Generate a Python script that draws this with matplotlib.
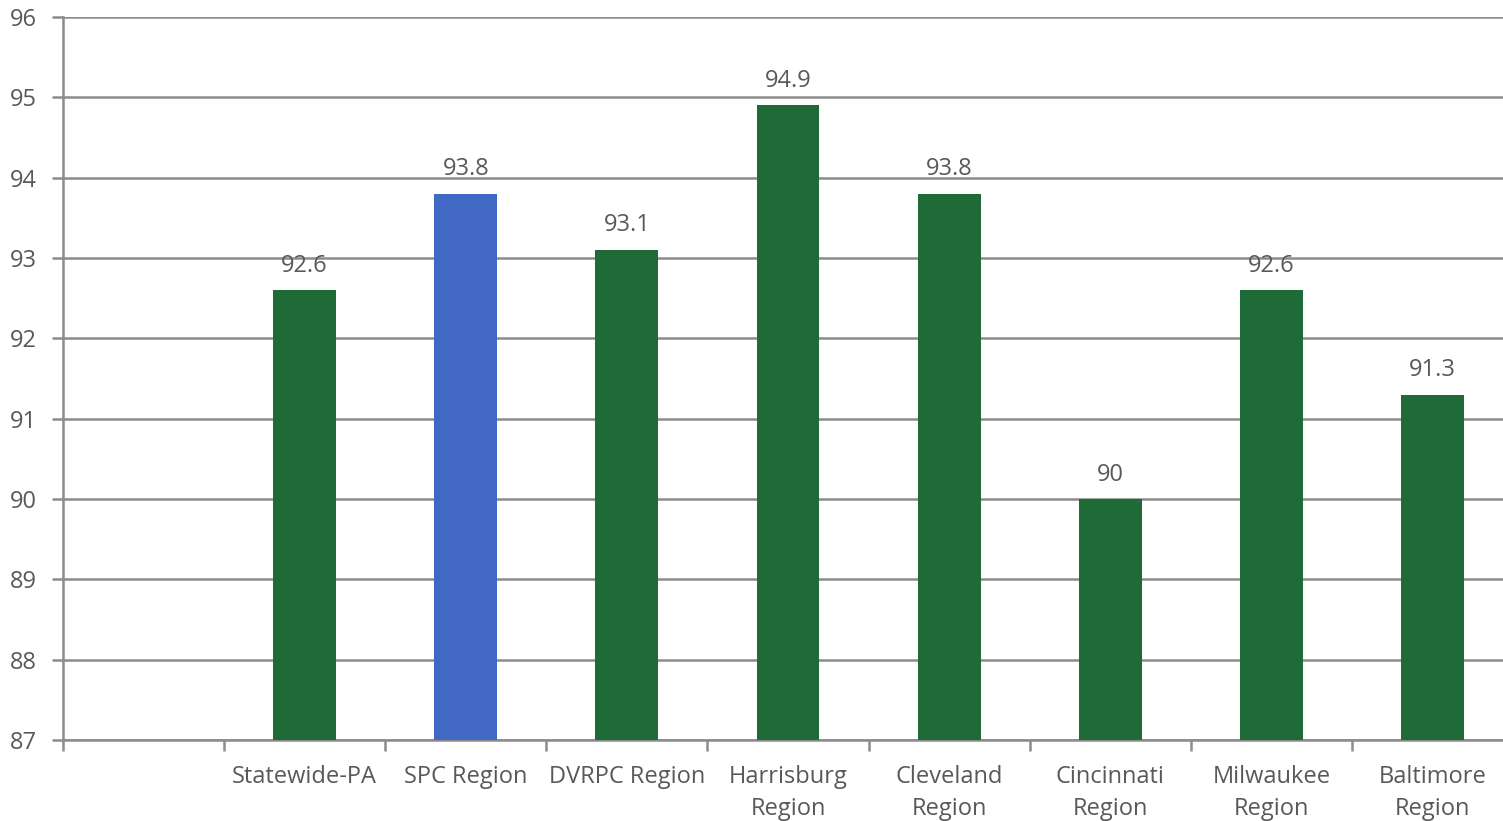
import matplotlib
matplotlib.use("Agg")
import matplotlib.pyplot as plt
import numpy as np

# Regions compared; the first slot is left blank on the axis
categories = ["", "Statewide-PA", "SPC Region", "DVRPC Region", "Harrisburg\nRegion",
              "Cleveland\nRegion", "Cincinnati\nRegion", "Milwaukee\nRegion",
              "Baltimore\nRegion"]
values = [None, 92.6, 93.8, 93.1, 94.9, 93.8, 90.0, 92.6, 91.3]
highlight = "SPC Region"

y_min, y_max = 87, 96
green = "#1E6B38"
blue = "#4169C4"
grid_gray = "#8C8C8C"
text_gray = "#595959"

plt.rcParams["font.family"] = ["Open Sans", "DejaVu Sans"]

fig = plt.figure(figsize=(15.03, 8.21), dpi=100)
ax = fig.add_axes([63 / 1503, 1 - 740 / 821, 1450 / 1503, (740 - 17) / 821])

x = np.arange(len(categories))
for xi, cat, val in zip(x, categories, values):
    if val is None:
        continue
    color = blue if cat == highlight else green
    ax.bar(xi, val - y_min, bottom=y_min, width=0.39, color=color, zorder=3)
    label = f"{val:g}"
    ax.annotate(label, (xi, val), xytext=(0, 9), textcoords="offset points",
                ha="center", va="bottom", fontsize=17, color=text_gray)

ax.set_xlim(-0.5, len(categories) - 0.5)
ax.set_ylim(y_min, y_max)
ax.set_yticks(range(y_min, y_max + 1))
ax.yaxis.grid(True, color=grid_gray, linewidth=1.8, zorder=0)
ax.set_axisbelow(True)

# category labels centred, tick marks on the boundaries between slots
ax.set_xticks(x)
ax.set_xticklabels(categories, fontsize=17, color=text_gray, linespacing=1.45)
ax.tick_params(axis="x", which="major", length=0, pad=18)
ax.set_xticks(np.arange(-0.5, len(categories)), minor=True)
ax.tick_params(axis="x", which="minor", length=8, width=1.8, color=grid_gray)

ax.tick_params(axis="y", length=8, width=1.8, color=grid_gray,
               labelsize=17, labelcolor=text_gray, pad=11)

for side in ["top", "right"]:
    ax.spines[side].set_visible(False)
for side in ["left", "bottom"]:
    ax.spines[side].set_color(grid_gray)
    ax.spines[side].set_linewidth(1.8)

fig.savefig("out.png", dpi=100)
